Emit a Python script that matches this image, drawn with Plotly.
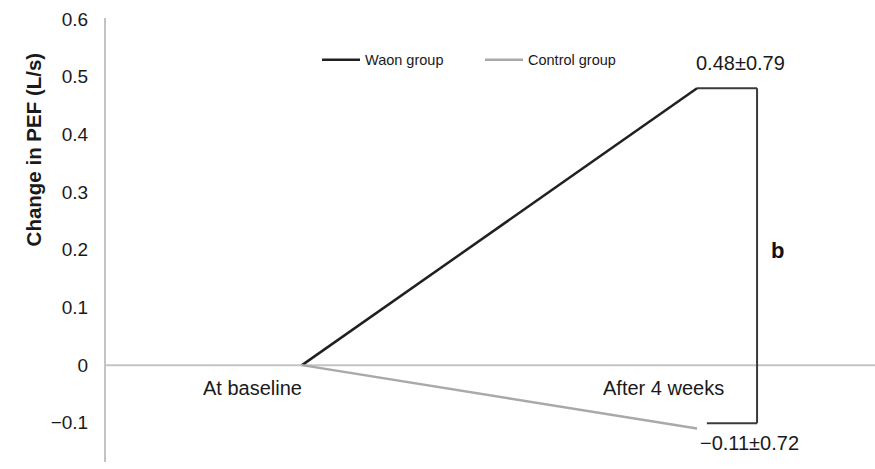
import plotly.graph_objects as go

categories = ["At baseline", "After 4 weeks"]
x_pos = [1, 2]
waon_change = [0.0, 0.48]
control_change = [0.0, -0.11]
waon_sd = 0.79
control_sd = 0.72
y_ticks = [-0.1, 0, 0.1, 0.2, 0.3, 0.4, 0.5, 0.6]
y_ticktext = ["\u22120.1", "0", "0.1", "0.2", "0.3", "0.4", "0.5", "0.6"]

FONT = "Liberation Sans, Arial, sans-serif"
WAON_C = "#231f20"
CTRL_C = "#a7a9ac"
AXIS_C = "#c4c4c4"

fig = go.Figure()
fig.add_trace(go.Scatter(x=x_pos, y=waon_change, mode="lines", name="Waon group",
                         line=dict(color=WAON_C, width=2.5)))
fig.add_trace(go.Scatter(x=x_pos, y=control_change, mode="lines", name="Control group",
                         line=dict(color=CTRL_C, width=2.5)))

# category labels (offset left of the category points, as in the reference)
for xi, lab in zip(x_pos, categories):
    fig.add_annotation(x=xi, y=0, text=lab, showarrow=False, xanchor="center",
                       yanchor="middle", xshift=-50 if xi == 1 else -34, yshift=-23,
                       font=dict(family=FONT, size=20, color="#1a1a1a"))

# value labels
fig.add_annotation(x=x_pos[1], y=waon_change[1],
                   text=f"{waon_change[1]:.2f}\u00b1{waon_sd:.2f}",
                   showarrow=False, xshift=43, yshift=25,
                   font=dict(family=FONT, size=20, color="#1a1a1a"))
fig.add_annotation(x=x_pos[1], y=control_change[1],
                   text=f"\u2212{abs(control_change[1]):.2f}\u00b1{control_sd:.2f}",
                   showarrow=False, xshift=52, yshift=-14,
                   font=dict(family=FONT, size=20, color="#1a1a1a"))

# significance bracket
bx = 2.152
fig.add_shape(type="line", x0=2.0, x1=bx, y0=waon_change[1], y1=waon_change[1],
              line=dict(color="#3a3a3a", width=2))
fig.add_shape(type="line", x0=bx, x1=bx, y0=waon_change[1], y1=-0.1006,
              line=dict(color="#3a3a3a", width=2))
fig.add_shape(type="line", x0=2.025, x1=bx, y0=-0.1006, y1=-0.1006,
              line=dict(color="#3a3a3a", width=2))
fig.add_annotation(x=bx, y=0.198, text="<b>b</b>", showarrow=False, xshift=20,
                   font=dict(family=FONT, size=22, color="#111111"))

# y title
fig.add_annotation(xref="paper", yref="paper", x=-73/769, y=0.704,
                   text="<b>Change in PEF (L/s)</b>", textangle=-90, showarrow=False,
                   xanchor="center", yanchor="middle",
                   font=dict(family=FONT, size=20.5, color="#1a1a1a"))

fig.update_layout(
    width=875, height=469,
    margin=dict(l=106, r=0, t=18, b=7, autoexpand=False),
    paper_bgcolor="white", plot_bgcolor="white",
    showlegend=True,
    legend=dict(orientation="h", x=(317 - 106) / 769, y=(469 - 18 - 59) / 444 + 0.023,
                xanchor="left", yanchor="middle", bgcolor="rgba(0,0,0,0)",
                font=dict(family=FONT, size=14.5, color="#1a1a1a"),
                entrywidth=110, itemwidth=38),
    xaxis=dict(range=[0.5038, 2.4506], showgrid=False, showticklabels=False,
               zeroline=False, showline=False, fixedrange=True, automargin=False),
    yaxis=dict(range=[-0.168, 0.602], tickvals=y_ticks, ticktext=y_ticktext,
               showgrid=False, zeroline=False, showline=True, linecolor=AXIS_C,
               linewidth=2, ticks="", ticklabelstandoff=12, automargin=False,
               fixedrange=True,
               tickfont=dict(family=FONT, size=19, color="#1a1a1a")),
)
# zero reference line across the full plot width
fig.add_hline(y=0, line=dict(color=AXIS_C, width=2), layer="below")

fig.write_html("out.html", config={"displayModeBar": False},
               post_script="document.body.style.margin='0';document.body.style.overflow='hidden';")
